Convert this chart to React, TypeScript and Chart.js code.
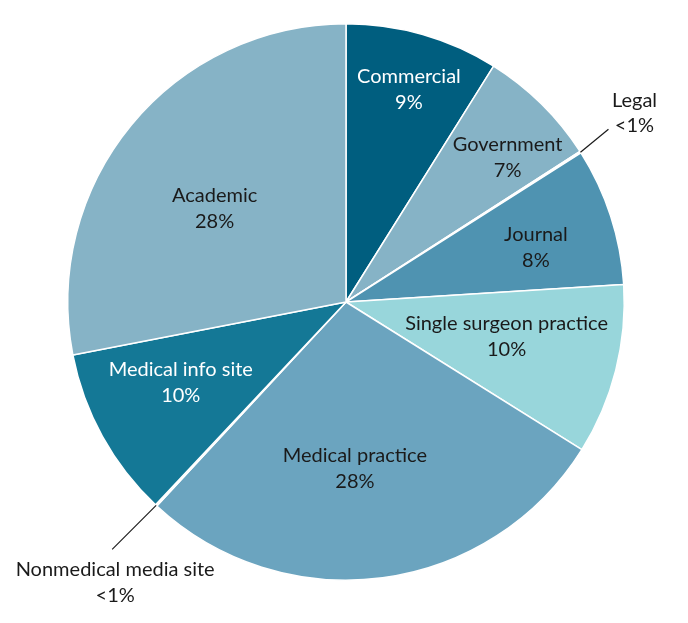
import React, { useEffect, useRef } from "react";
import { Chart, registerables } from "chart.js";

Chart.register(...registerables);

const categories = [
  "Commercial",
  "Government",
  "Legal",
  "Journal",
  "Single surgeon practice",
  "Medical practice",
  "Nonmedical media site",
  "Medical info site",
  "Academic",
];
const values = [8.9, 7.0, 0.1, 8.0, 9.9, 28.0, 0.1, 9.95, 28.05];
const valueLabels = ["9%", "7%", "<1%", "8%", "10%", "28%", "<1%", "10%", "28%"];
const colors = [
  "#005e7f",
  "#86b3c6",
  "#ffffff",
  "#4f93b1",
  "#98d6db",
  "#6ba4bf",
  "#ffffff",
  "#147896",
  "#86b3c6",
];
const textColors = ["#ffffff", "#1a1a1a", "#1a1a1a", "#1a1a1a", "#1a1a1a", "#1a1a1a", "#1a1a1a", "#ffffff", "#1a1a1a"];
// label placement (fraction of radius, angle shift in degrees); null = callout
const labelRadius = [0.795, 0.78, null, 0.71, 0.59, 0.6, null, 0.66, 0.58];
const labelShift = [0.5, 3.5, 0, 2, -2.2, 4.5, 0, 3, -4];
const FONT = "20px Lato, sans-serif";

const labelPlugin = {
  id: "sliceLabels",
  afterDatasetsDraw(chart: any) {
    const ctx = chart.ctx;
    const meta = chart.getDatasetMeta(0);
    ctx.save();
    ctx.font = FONT;
    ctx.textAlign = "center";
    ctx.textBaseline = "middle";
    meta.data.forEach((arc: any, i: number) => {
      const { x, y, startAngle, endAngle, outerRadius } = arc.getProps(
        ["x", "y", "startAngle", "endAngle", "outerRadius"],
        true
      );
      const mid = (startAngle + endAngle) / 2;
      const lr = labelRadius[i];
      if (lr !== null) {
        const a = mid + (labelShift[i] * Math.PI) / 180;
        const cx = x + Math.cos(a) * outerRadius * lr;
        const cy = y + Math.sin(a) * outerRadius * lr;
        ctx.fillStyle = textColors[i];
        ctx.fillText(categories[i], cx, cy - 13);
        ctx.fillText(valueLabels[i], cx, cy + 13);
      } else {
        const ex = x + Math.cos(mid) * outerRadius;
        const ey = y + Math.sin(mid) * outerRadius;
        const dirx = Math.cos(mid) >= 0 ? 1 : -1;
        const diry = Math.sin(mid) >= 0 ? 1 : -1;
        const lx = ex + dirx * (dirx > 0 ? 28 : 44);
        const ly = ey + diry * (diry > 0 ? 44 : 23);
        ctx.strokeStyle = "#1a1a1a";
        ctx.lineWidth = 1.2;
        ctx.beginPath();
        ctx.moveTo(ex, ey);
        ctx.lineTo(lx, ly);
        ctx.stroke();
        ctx.fillStyle = "#1a1a1a";
        if (diry < 0) {
          const tx = lx + 26;
          ctx.fillText(categories[i], tx, ly - 29);
          ctx.fillText(valueLabels[i], tx, ly - 4);
        } else {
          const tx = lx + 3;
          ctx.fillText(categories[i], tx, ly + 20);
          ctx.fillText(valueLabels[i], tx, ly + 46);
        }
      }
    });
    ctx.restore();
  },
};

export default function App() {
  const ref = useRef<HTMLCanvasElement>(null);
  useEffect(() => {
    if (!ref.current) return;
    const chart = new Chart(ref.current, {
      type: "pie",
      data: {
        labels: categories,
        datasets: [
          {
            data: values,
            backgroundColor: colors,
            borderColor: "#ffffff",
            borderWidth: 1.5,
          },
        ],
      },
      options: {
        animation: false,
        responsive: false,
        layout: { padding: { left: 67, right: 63, top: 23, bottom: 42 } },
        plugins: {
          legend: { display: false },
          tooltip: { enabled: false },
        },
      },
      plugins: [labelPlugin],
    });
    return () => chart.destroy();
  }, []);
  return (
    <div style={{ position: "absolute", left: 0, top: 0, width: 688, height: 623, background: "#fff" }}>
      <canvas ref={ref} width={688} height={623} style={{ width: 688, height: 623 }} />
    </div>
  );
}
